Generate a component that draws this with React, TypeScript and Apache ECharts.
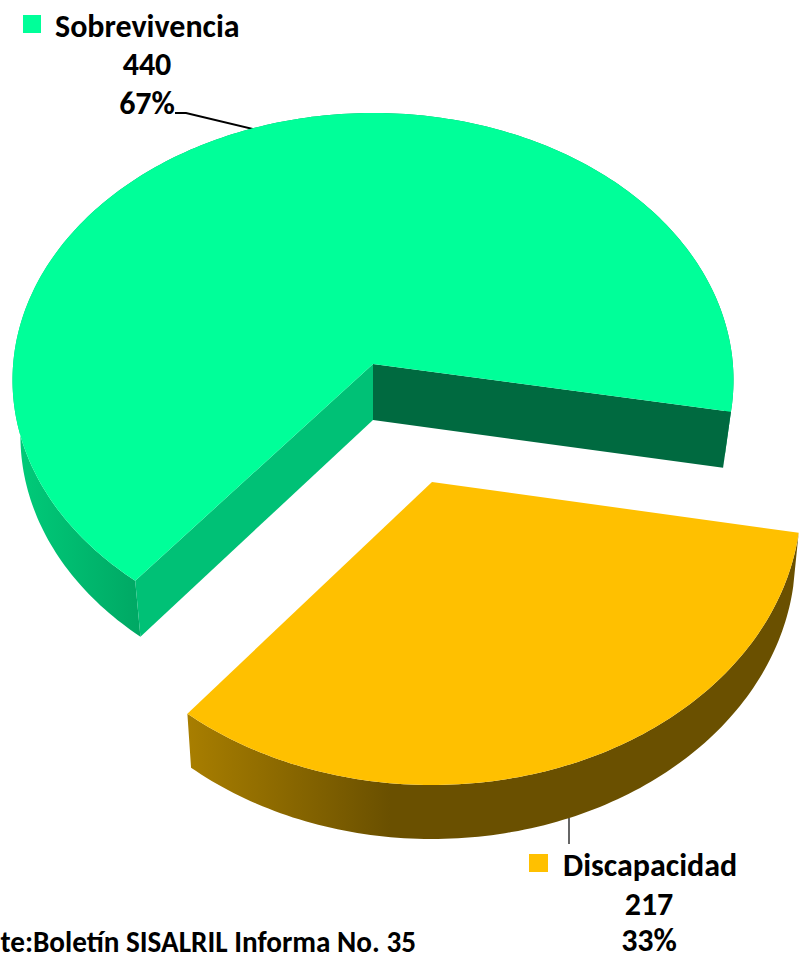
import React, { useEffect, useRef } from "react";
import * as echarts from "echarts";

const categories = ["Sobrevivencia", "Discapacidad"];
const values = [440, 217];
const sourceText = "te:Boletín SISALRIL Informa No. 35";

const FONT = "Carlito, Lato, 'Open Sans', sans-serif";
const START_ANGLE = 10.2; // screen-clockwise degrees; Discapacidad starts here

type Plane = {
  ax: number; ay: number; rx: number; ry: number; offset: number;
  depth: number; wallScale: number;
  top: string; innerA: string; innerB: string; wall: any;
};

const planes: Plane[] = [
  {
    ax: 373, ay: 364, rx: 360.5, ry: 267, offset: 16, depth: 56, wallScale: 0.978,
    top: "#00FF99", innerA: "#006A40", innerB: "#00C176",
    wall: { type: "linear", global: true, x: 15, y: 0, x2: 140, y2: 0,
      colorStops: [{ offset: 0, color: "#00CC7A" }, { offset: 1, color: "#00A864" }] },
  },
  {
    ax: 432, ay: 482, rx: 369, ry: 284, offset: 19, depth: 54, wallScale: 0.985,
    top: "#FFC000", innerA: "#6A5000", innerB: "#A87D00",
    wall: { type: "linear", global: true, x: 188, y: 0, x2: 390, y2: 0,
      colorStops: [{ offset: 0, color: "#A87E00" }, { offset: 1, color: "#6A5000" }] },
  },
];

const total = values.reduce((a, b) => a + b, 0);
const rad = (d: number) => (d * Math.PI) / 180;

function rim(p: Plane, deg: number, bottom: boolean): number[] {
  const dx = Math.cos(rad(deg));
  const dy = Math.sin(rad(deg));
  const v0 = -p.offset / p.ry;
  const b = v0 * dy;
  const t = -b + Math.sqrt(b * b - (v0 * v0 - 1));
  const x = t * dx * p.rx;
  const y = (v0 + t * dy) * p.ry + p.offset;
  return bottom ? [p.ax + x * p.wallScale, p.ay + y + p.depth] : [p.ax + x, p.ay + y];
}

function sweep(p: Plane, from: number, to: number, bottom: boolean): number[][] {
  const pts: number[][] = [];
  const n = Math.ceil(to - from);
  for (let i = 0; i <= n; i++) pts.push(rim(p, from + ((to - from) * i) / n, bottom));
  return pts;
}

// Slices run clockwise from START_ANGLE; Discapacidad first, then Sobrevivencia.
function sliceAngles(index: number): [number, number] {
  const d = (values[1] / total) * 360;
  return index === 1 ? [START_ANGLE, START_ANGLE + d] : [START_ANGLE + d, START_ANGLE + 360];
}

function renderSlice(params: any) {
  const i = params.dataIndex;
  const p = planes[i];
  const [a0, a1] = sliceAngles(i);
  const apexTop = [p.ax, p.ay];
  const apexBottom = [p.ax, p.ay + p.depth];
  const topRim = sweep(p, a0, a1, false);
  const botRim = sweep(p, a0, a1, true);
  const poly = (points: number[][], fill: any) => ({
    type: "polygon",
    shape: { points },
    style: { fill, stroke: null },
    silent: true,
  });
  const children: any[] = [
    poly([...topRim, ...botRim.slice().reverse()], p.wall),
  ];
  if (i === 0) {
    children.push(poly([apexTop, rim(p, a0, false), rim(p, a0, true), apexBottom], p.innerB));
    children.push(poly([apexTop, rim(p, a1, false), rim(p, a1, true), apexBottom], p.innerA));
  }
  children.push(poly([apexTop, ...topRim], p.top));
  return { type: "group", children };
}

const blackText = (text: string, x: number, y: number, size: number, align = "center") => ({
  type: "text",
  x,
  y,
  silent: true,
  style: { text, x: 0, y: 0, align, verticalAlign: "middle", fill: "#000000", lineHeight: 30,
    font: `bold ${size}px ${FONT}` },
});

const pct = (v: number) => `${Math.round((v / total) * 100)}%`;

export default function App() {
  const ref = useRef<HTMLDivElement>(null);
  useEffect(() => {
    document.body.style.margin = "0";
    const chart = echarts.init(ref.current!, null, { renderer: "svg" });
    chart.setOption({
      animation: false,
      backgroundColor: "#ffffff",
      graphic: [
        { type: "rect", shape: { x: 23, y: 15, width: 18, height: 18 }, style: { fill: planes[0].top } },
        blackText(categories[0], 55, 26, 32, "left"),
        blackText(String(values[0]), 147, 64, 32),
        blackText(pct(values[0]), 147, 103, 32),
        { type: "polyline", shape: { points: [[175, 113], [186, 113], [257, 130]] },
          style: { stroke: "#000000", lineWidth: 2, fill: null } },
        { type: "rect", shape: { x: 529, y: 854, width: 19, height: 18 }, style: { fill: planes[1].top } },
        blackText(categories[1], 563, 865, 32, "left"),
        blackText(String(values[1]), 649, 904, 32),
        blackText(pct(values[1]), 649, 940, 32),
        { type: "line", shape: { x1: 569, y1: 818, x2: 569, y2: 844 },
          style: { stroke: "#333333", lineWidth: 1.5 } },
        blackText(sourceText, 416, 942, 29.2, "right"),
      ],
      series: [
        {
          type: "custom",
          coordinateSystem: "none",
          renderItem: renderSlice,
          data: values.map((v, i) => ({ name: categories[i], value: [v] })),
          silent: true,
          z: 1,
        },
      ],
    });
    return () => chart.dispose();
  }, []);
  return <div ref={ref} style={{ width: 799, height: 959 }} />;
}
